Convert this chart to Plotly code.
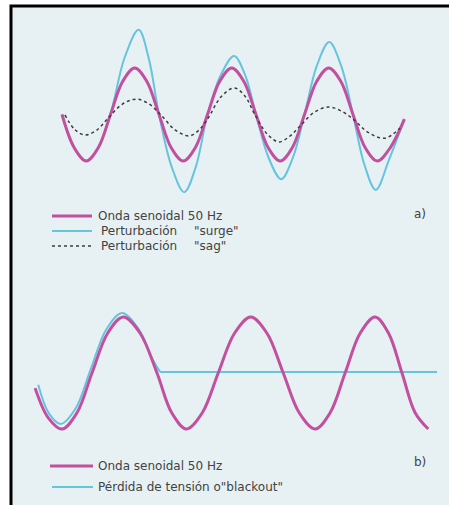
import plotly.graph_objects as go

W, H = 449, 505

# ---------------- Panel a) : time (ms), amplitude (p.u.) ----------------
onda_a_t = [0, 2.5, 5, 7.5, 10, 12.5, 15, 17.5, 20, 22.5, 25, 27.5, 30, 32.5, 35,
            37.5, 40, 42.5, 45, 47.5, 50, 52.5, 55, 57.5, 60, 62.5, 65, 67.7, 70.6]
onda_a_y = [0, -0.71, -1, -0.71, 0, 0.71, 1, 0.71, 0, -0.71, -1, -0.71, 0, 0.71, 1,
            0.71, 0, -0.71, -1, -0.71, 0, 0.71, 1, 0.71, 0, -0.71, -1, -0.71, -0.1]

surge_a_t = [0, 2.5, 5, 7.5, 10, 12.9, 15.8, 17.9, 20, 22.6, 25.2, 27.6, 30, 32.75, 35.5,
             37.75, 40, 42.6, 45.2, 47.6, 50, 52.55, 55.1, 57.55, 60, 62.35, 64.7, 67.4, 70.6]
surge_a_y = [0, -0.71, -1, -0.71, 0, 1.22, 1.82, 1.2, 0, -1.12, -1.67, -1.12, 0, 0.85, 1.26,
             0.85, 0, -0.93, -1.39, -0.93, 0, 1.05, 1.56, 1.05, 0, -1.08, -1.62, -0.98, -0.1]

sag_a_t = [0.6, 2.6, 4.7, 7.1, 9.5, 12.4, 15.3, 17.9, 20.4, 23.3, 26.2, 28.2, 30.1, 32.8,
           35.5, 37.7, 39.8, 42.3, 44.7, 46.8, 48.9, 51.9, 54.8, 57.3, 59.8, 63.2, 66.6, 69.7]
sag_a_y = [-0.01, -0.32, -0.44, -0.34, -0.08, 0.22, 0.33, 0.23, -0.01, -0.33, -0.46, -0.34, -0.08, 0.38,
           0.57, 0.40, -0.01, -0.42, -0.59, -0.48, -0.27, 0.04, 0.16, 0.09, -0.08, -0.39, -0.51, -0.29]

# ---------------- Panel b) ----------------
onda_b_t = [-9.1, -7.0, -4.8, -2.4, 0, 2.5, 5.0, 7.7, 10.4, 12.75, 15.1, 17.65, 20.2, 22.8,
            25.4, 28.0, 30.6, 33.15, 35.7, 38.1, 40.5, 42.9, 45.3, 47.45, 49.6, 51.7, 53.8]
onda_b_y = [-0.27, -0.8, -1, -0.71, 0, 0.71, 1, 0.71, 0, -0.71, -1, -0.71, 0, 0.71,
            1, 0.71, 0, -0.71, -1, -0.71, 0, 0.71, 1, 0.71, 0, -0.71, -1]

blackout_wave_t = [-8.6, -6.9, -5.0, -2.6, -0.2, 2.3, 4.8, 7.5, 9.7, 10.9]
blackout_wave_y = [-0.21, -0.72, -0.91, -0.63, 0.07, 0.78, 1.07, 0.78, 0.24, 0.02]
blackout_flat_t = [10.9, 55.2]
blackout_flat_y = [0.02, 0.02]

legend_a = ["Onda senoidal 50 Hz", "Perturbación", '"surge"', "Perturbación", '"sag"']
legend_b = ["Onda senoidal 50 Hz", 'Pérdida de tensión o"blackout"']
panel_labels = ["a)", "b)"]

PINK = "#c2509f"
CYAN = "#66c4de"
DOT = "#3c3c3c"
BG = "#e7f1f3"
TXT = "#424242"
FONT = "DejaVu Sans"
FS = 12


def pxx(x):
    return x / W


def pxy(y):
    return 1 - y / H


fig = go.Figure()

# panel a traces (surge below the 50 Hz wave)
fig.add_trace(go.Scatter(x=surge_a_t, y=surge_a_y, mode="lines", line=dict(color=CYAN, width=2, shape="spline", smoothing=1.0),
                         xaxis="x", yaxis="y", name='Perturbación "surge"'))
fig.add_trace(go.Scatter(x=onda_a_t, y=onda_a_y, mode="lines", line=dict(color=PINK, width=3, shape="spline", smoothing=1.0),
                         xaxis="x", yaxis="y", name="Onda senoidal 50 Hz"))
fig.add_trace(go.Scatter(x=sag_a_t, y=sag_a_y, mode="lines", line=dict(color=DOT, width=1.5, dash="dot", shape="spline", smoothing=1.0),
                         xaxis="x", yaxis="y", name='Perturbación "sag"'))

# panel b traces
fig.add_trace(go.Scatter(x=blackout_wave_t, y=blackout_wave_y, mode="lines", line=dict(color=CYAN, width=2, shape="spline", smoothing=1.0),
                         xaxis="x2", yaxis="y2", name='Pérdida de tensión o"blackout"'))
fig.add_trace(go.Scatter(x=blackout_flat_t, y=blackout_flat_y, mode="lines", line=dict(color=CYAN, width=2),
                         xaxis="x2", yaxis="y2", name='Pérdida de tensión o"blackout"'))
fig.add_trace(go.Scatter(x=onda_b_t, y=onda_b_y, mode="lines", line=dict(color=PINK, width=3, shape="spline", smoothing=1.0),
                         xaxis="x2", yaxis="y2", name="Onda senoidal 50 Hz"))

# axis scales (ms -> px, p.u. -> px)
sa_x, x0a = 4.85, 62.0
sa_y, y0a = 46.5, 114.5
sb_x, x0b = 6.25, 92.0
sb_y, y0b = 56.0, 373.0

xa_range = [-x0a / sa_x, (W - x0a) / sa_x]
ya_range = [-(H - y0a) / sa_y, y0a / sa_y]
xb_range = [-x0b / sb_x, (W - x0b) / sb_x]
yb_range = [-(H - y0b) / sb_y, y0b / sb_y]

hidden = dict(visible=False, showgrid=False, zeroline=False, fixedrange=True)
fig.update_layout(
    width=W, height=H,
    margin=dict(l=0, r=0, t=0, b=0),
    paper_bgcolor="white",
    plot_bgcolor="rgba(0,0,0,0)",
    showlegend=False,
    xaxis=dict(domain=[0, 1], range=xa_range, anchor="y", **hidden),
    yaxis=dict(domain=[0, 1], range=ya_range, anchor="x", **hidden),
    xaxis2=dict(domain=[0, 1], range=xb_range, anchor="y2", **hidden),
    yaxis2=dict(domain=[0, 1], range=yb_range, anchor="x2", **hidden),
)

shapes = []
# framed panel background
shapes.append(dict(type="rect", xref="paper", yref="paper", x0=pxx(11), x1=pxx(W + 10), y0=pxy(H + 10), y1=pxy(6),
                   fillcolor=BG, line=dict(color="black", width=3), layer="below"))
# legend swatches a)
shapes.append(dict(type="line", xref="paper", yref="paper", x0=pxx(52), x1=pxx(92), y0=pxy(216), y1=pxy(216), line=dict(color=PINK, width=3)))
shapes.append(dict(type="line", xref="paper", yref="paper", x0=pxx(52), x1=pxx(92), y0=pxy(231), y1=pxy(231), line=dict(color=CYAN, width=2)))
shapes.append(dict(type="line", xref="paper", yref="paper", x0=pxx(52), x1=pxx(91), y0=pxy(246), y1=pxy(246), line=dict(color=DOT, width=1.5, dash="dot")))
# legend swatches b)
shapes.append(dict(type="line", xref="paper", yref="paper", x0=pxx(50), x1=pxx(93), y0=pxy(466), y1=pxy(466), line=dict(color=PINK, width=3)))
shapes.append(dict(type="line", xref="paper", yref="paper", x0=pxx(52), x1=pxx(93), y0=pxy(487), y1=pxy(487), line=dict(color=CYAN, width=2)))

annots = []


def txt(s, x, y, size=FS, anchor="left"):
    annots.append(dict(text=s, xref="paper", yref="paper", x=pxx(x), y=pxy(y), xanchor=anchor, yanchor="middle",
                       showarrow=False, font=dict(family=FONT, size=size, color=TXT)))


txt(legend_a[0], 96, 216)
txt(legend_a[1], 99, 231)
txt(legend_a[2], 192, 231)
txt(legend_a[3], 99, 246)
txt(legend_a[4], 192, 246)
txt(panel_labels[0], 412, 214)

txt(legend_b[0], 96, 466)
txt(legend_b[1], 96, 487)
txt(panel_labels[1], 412, 462)

fig.update_layout(shapes=shapes, annotations=annots)

fig.write_html("out.html")
